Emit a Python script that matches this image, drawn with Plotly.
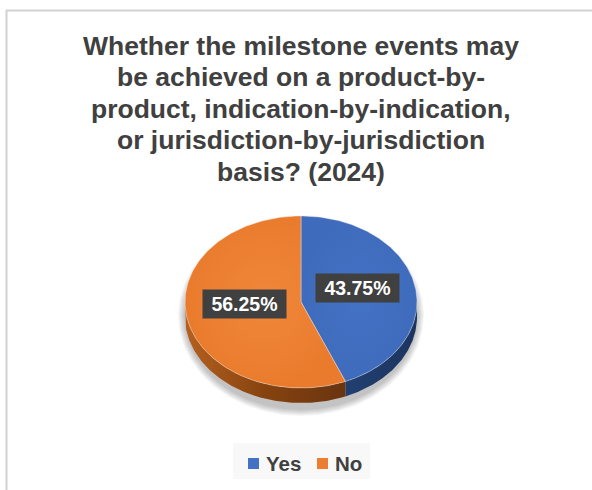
import numpy as np
import plotly.graph_objects as go

# ---- data ----
categories = ["Yes", "No"]
shares = [43.75, 56.25]
face_colors = ["#4472C4", "#F0873A"]
face_colors_edge = ["#3F6BBC", "#EA7B2D"]
side_colors = [["#223F70", "#1C355F"], ["#B5601F", "#86430F", "#6A3410"]]
title_lines = [
    "Whether the milestone events may",
    "be achieved on a product-by-",
    "product, indication-by-indication,",
    "or jurisdiction-by-jurisdiction",
    "basis? (2024)",
]

# ---- layout constants (pixel space) ----
W, H = 592, 490
CX, CY = 301, 302          # centre of the pie's top face
RX, RY = 116, 86           # ellipse radii of the tilted pie
DEPTH = 15                 # thickness of the pie
FONT = "Liberation Sans, Arial, sans-serif"
TEXT = "#404040"


def rim(t0, t1, dy=0.0, n=160):
    """Points on the ellipse rim, angles in degrees clockwise from 12 o'clock."""
    t = np.radians(np.linspace(t0, t1, n))
    return CX + RX * np.sin(t), CY - RY * np.cos(t) + dy


total = sum(shares)
ends = np.cumsum(shares) / total * 360.0
starts = np.concatenate([[0.0], ends[:-1]])

fig = go.Figure()

# soft drop shadow beneath the pie
for k in range(1, 8):
    t = np.radians(np.linspace(0, 360, 200))
    fig.add_trace(go.Scatter(
        x=CX + (RX + k) * np.sin(t),
        y=CY + DEPTH / 2 + 6 - (RY + DEPTH / 2 + k) * np.cos(t),
        mode="lines", line=dict(width=0), fill="toself",
        fillcolor="rgba(0,0,0,0.035)", hoverinfo="skip", showlegend=False,
    ))

# visible side walls (front half of the rim: 90..270 degrees)
for i, (s, e) in enumerate(zip(starts, ends)):
    lo, hi = max(s, 90.0), min(e, 270.0)
    if hi <= lo:
        continue
    xt, yt = rim(lo, hi)
    xb, yb = rim(hi, lo, dy=DEPTH)
    cols = side_colors[i]
    scale = [[j / (len(cols) - 1), c] for j, c in enumerate(cols)]
    fig.add_trace(go.Scatter(
        x=np.concatenate([xt, xb, xt[:1]]),
        y=np.concatenate([yt, yb, yt[:1]]),
        mode="lines", line=dict(width=0), fill="toself",
        fillgradient=dict(type="horizontal", colorscale=scale),
        hoverinfo="skip", showlegend=False,
    ))

# top faces of the slices
for i, (s, e) in enumerate(zip(starts, ends)):
    xr, yr = rim(s, e)
    fig.add_trace(go.Scatter(
        x=np.concatenate([[CX], xr, [CX]]),
        y=np.concatenate([[CY], yr, [CY]]),
        mode="lines", line=dict(width=0.8, color="rgba(255,255,255,0.45)"),
        fill="toself",
        fillgradient=dict(type="radial",
                          colorscale=[[0, face_colors[i]], [1, face_colors_edge[i]]]),
        hoverinfo="skip", showlegend=False, name=categories[i],
    ))

annotations = []

# data labels at each slice's mid angle
for i, (s, e) in enumerate(zip(starts, ends)):
    mid = np.radians((s + e) / 2)
    lx = CX + 0.5 * RX * np.sin(mid)
    ly = CY - 0.5 * RY * np.cos(mid) - 6
    annotations.append(dict(
        x=lx, y=ly, xref="x", yref="y", showarrow=False,
        text="<b>&nbsp;%.2f%%&nbsp;</b>" % shares[i],
        font=dict(family=FONT, size=19.5, color="white"),
        bgcolor="#404040", borderpad=3,
    ))

# title, one line at a time for tighter leading
for j, line in enumerate(title_lines):
    annotations.append(dict(
        x=301, y=45.5 + 31.5 * j, xref="x", yref="y", showarrow=False,
        xanchor="center", yanchor="middle",
        text="<b>%s</b>" % line,
        font=dict(family=FONT, size=26.5, color=TEXT),
    ))

# legend
legend_x = [253.5, 322.5]
legend_y = 463.5
fig.add_trace(go.Scatter(
    x=legend_x, y=[legend_y] * 2, mode="markers",
    marker=dict(symbol="square", size=11, color=["#4472C4", "#ED7D31"], line=dict(width=0)),
    hoverinfo="skip", showlegend=False,
))
for lx, name in zip(legend_x, categories):
    annotations.append(dict(
        x=lx + 10, y=legend_y, xref="x", yref="y", showarrow=False,
        xanchor="left", yanchor="middle",
        text="<b>%s</b>" % name,
        font=dict(family=FONT, size=20.5, color=TEXT),
    ))

shapes = [
    # faint legend panel
    dict(type="rect", xref="x", yref="y", x0=233, y0=443, x1=370, y1=479,
         fillcolor="#F8F8F8", line=dict(width=0), layer="below"),
    # chart frame
    dict(type="rect", xref="x", yref="y", x0=6.5, y0=10.5, x1=W + 20, y1=H + 20,
         line=dict(color="#D2D2D2", width=2), layer="above"),
]

fig.update_layout(
    width=W, height=H,
    margin=dict(l=0, r=0, t=0, b=0),
    paper_bgcolor="white", plot_bgcolor="white",
    xaxis=dict(range=[0, W], visible=False, fixedrange=True),
    yaxis=dict(range=[H, 0], visible=False, fixedrange=True),
    annotations=annotations, shapes=shapes, showlegend=False,
)

fig.write_html("out.html")
